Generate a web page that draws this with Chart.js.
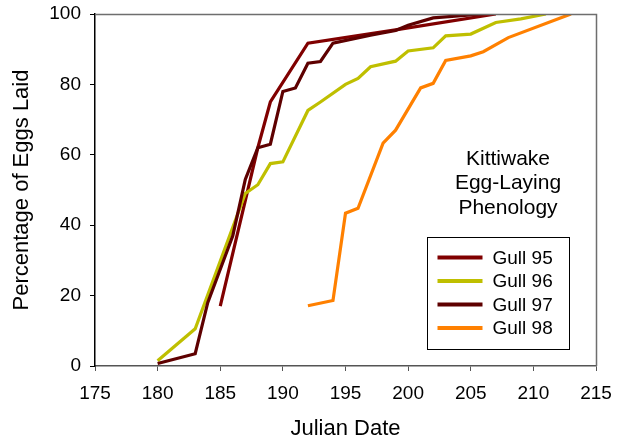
<!DOCTYPE html>
<html>
<head>
<meta charset="utf-8">
<script src="https://cdn.jsdelivr.net/npm/chart.js@4"></script>
<style>
  html, body { margin: 0; padding: 0; background: #fff; }
  canvas { display: block; }
</style>
</head>
<body>
<canvas id="myChart" width="621" height="442"></canvas>
<script>
// values
var gull95Days = [185, 188, 189, 192, 199, 207];
var gull95Pct  = [17, 62, 75, 91.7, 95.5, 100];

var gull96Days = [180, 183, 187, 188, 189, 190, 192, 193, 195, 196, 197, 199, 200, 202, 203, 205, 207, 209, 211];
var gull96Pct  = [1.5, 10.6, 49, 51.5, 57.5, 58, 72.6, 75, 80, 81.7, 85, 86.6, 89.5, 90.4, 93.8, 94.3, 97.6, 98.6, 100];

var gull97Days = [180, 183, 184, 186, 187, 188, 189, 190, 191, 192, 193, 194, 197, 199, 200, 202, 206];
var gull97Pct  = [0.7, 3.5, 18, 37, 53, 62, 63, 78, 79, 86, 86.5, 91.7, 94, 95.3, 96.8, 98.9, 100];

var gull98Days = [192, 194, 195, 196, 198, 199, 201, 202, 203, 205, 206, 208, 213];
var gull98Pct  = [17.1, 18.6, 43.4, 44.8, 63.3, 67, 79, 80.3, 86.8, 88.1, 89.3, 93.3, 100];

var seriesNames = ['Gull 95', 'Gull 96', 'Gull 97', 'Gull 98'];
var seriesColors = ['#800000', '#bfbf00', '#5e0000', '#ff8000'];
var titleLines = ['Kittiwake', 'Egg-Laying', 'Phenology'];

var FONT = "'Liberation Sans', Arial, sans-serif";

function toPoints(days, pct) {
    var pts = [];
    for (var i = 0; i < days.length; i++) {
        pts.push({ x: days[i], y: pct[i] });
    }
    return pts;
}

var allDays = [gull95Days, gull96Days, gull97Days, gull98Days];
var allPct = [gull95Pct, gull96Pct, gull97Pct, gull98Pct];
var datasets = [];
for (var k = 0; k < seriesNames.length; k++) {
    datasets.push({
        label: seriesNames[k],
        data: toPoints(allDays[k], allPct[k]),
        borderColor: seriesColors[k],
        backgroundColor: seriesColors[k],
        borderWidth: 3.2,
        pointRadius: 0,
        fill: false,
        tension: 0,
        order: seriesNames.length - k
    });
}

// top/right frame, title text and legend box inside the plot
var decor = {
    id: 'decor',
    afterDraw: function (chart) {
        var c = chart.ctx;
        var a = chart.chartArea;
        c.save();
        c.strokeStyle = '#6e6e6e';
        c.lineWidth = 1.5;
        c.beginPath();
        c.moveTo(a.left, a.top + 0.5);
        c.lineTo(a.right + 0.5, a.top + 0.5);
        c.lineTo(a.right + 0.5, a.bottom);
        c.stroke();

        // title
        c.fillStyle = '#000';
        c.font = '21px ' + FONT;
        c.textAlign = 'center';
        c.textBaseline = 'middle';
        var tx = a.right - 88;
        for (var i = 0; i < titleLines.length; i++) {
            c.fillText(titleLines[i], tx, a.top + 145 + i * 24.5);
        }

        // legend
        var bx = a.right - 168.5, by = a.top + 223.5, bw = 142, bh = 112;
        c.fillStyle = '#fff';
        c.fillRect(bx, by, bw, bh);
        c.strokeStyle = '#000';
        c.lineWidth = 1;
        c.strokeRect(bx, by, bw, bh);
        c.font = '19px ' + FONT;
        c.textAlign = 'left';
        var ds = chart.data.datasets;
        for (var j = 0; j < ds.length; j++) {
            var ly = by + 20 + j * 23.5;
            c.strokeStyle = ds[j].borderColor;
            c.lineWidth = 4;
            c.beginPath();
            c.moveTo(bx + 10, ly);
            c.lineTo(bx + 55, ly);
            c.stroke();
            c.fillStyle = '#000';
            c.fillText(ds[j].label, bx + 65, ly + 1);
        }
        c.restore();
    }
};

var ctx = document.getElementById('myChart').getContext('2d');
var myChart = new Chart(ctx, {
    type: 'line',
    data: { datasets: datasets },
    plugins: [decor],
    options: {
        responsive: false,
        animation: false,
        devicePixelRatio: 1,
        layout: { autoPadding: false, padding: { top: 14, right: 25, left: 0, bottom: 0 } },
        plugins: {
            legend: { display: false },
            title: { display: false },
            tooltip: { enabled: false }
        },
        scales: {
            x: {
                type: 'linear',
                min: 175,
                max: 215,
                afterFit: function (scale) {
                    scale.height = 76;
                    scale.paddingLeft = 0;
                    scale.paddingRight = 0;
                },
                ticks: {
                    stepSize: 5,
                    color: '#000',
                    padding: 11,
                    font: { family: FONT, size: 19 }
                },
                grid: {
                    drawOnChartArea: false,
                    drawTicks: true,
                    tickLength: 5,
                    color: '#555'
                },
                border: { display: true, color: '#555', width: 1.5 },
                title: {
                    display: true,
                    text: 'Julian Date',
                    color: '#000',
                    font: { family: FONT, size: 22 },
                    padding: { top: 0, bottom: 0 }
                }
            },
            y: {
                min: 0,
                max: 100,
                afterFit: function (scale) {
                    scale.width = 95;
                    scale.paddingTop = 0;
                    scale.paddingBottom = 0;
                },
                ticks: {
                    stepSize: 20,
                    color: '#000',
                    padding: 9,
                    font: { family: FONT, size: 19 }
                },
                grid: {
                    drawOnChartArea: false,
                    drawTicks: true,
                    tickLength: 5,
                    color: '#000'
                },
                border: { display: true, color: '#000', width: 1.5 },
                title: {
                    display: true,
                    text: 'Percentage of Eggs Laid',
                    color: '#000',
                    font: { family: FONT, size: 22 },
                    padding: { top: 9, bottom: 9 }
                }
            }
        }
    }
});
</script>
</body>
</html>
